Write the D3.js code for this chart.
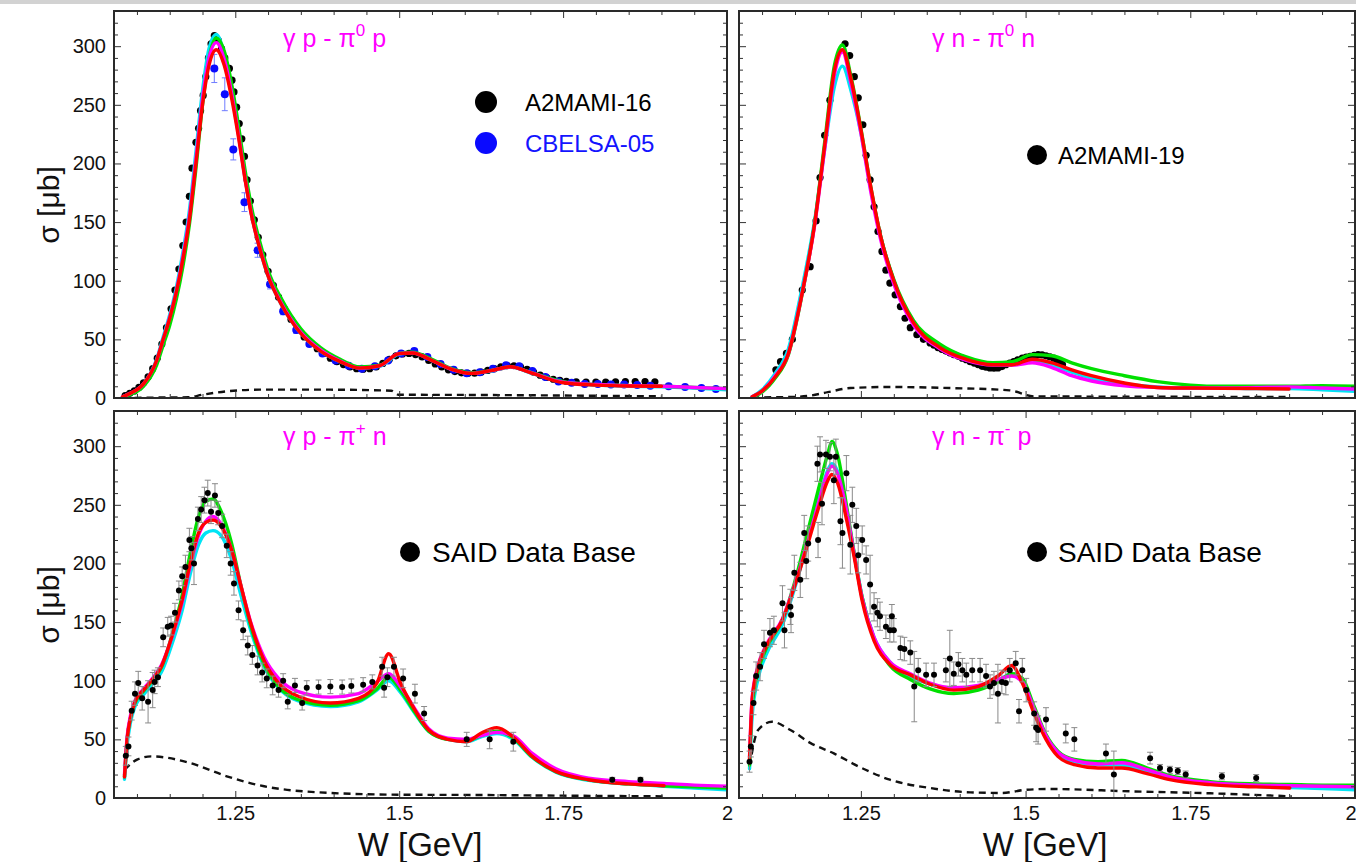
<!DOCTYPE html>
<html>
<head>
<meta charset="utf-8">
<script src="https://cdn.jsdelivr.net/npm/d3@7"></script>
<style>
  body { margin: 0; background: #fff; }
  text { font-family: "Liberation Sans", Arial, Helvetica, sans-serif; }
</style>
</head>
<body>
<svg id="chart" width="1356" height="862"></svg>
<script>
// ---------------- axes ----------------
const xDomain = [1.065, 2.0];
const yDomain = [0, 330];
const xMajorTicks = [1.25, 1.5, 1.75, 2.0];
const xTickLabels = ["1.25", "1.5", "1.75", "2"];
const yMajorTicks = [0, 50, 100, 150, 200, 250, 300];

// ---------------- γp → π0p ----------------
const tlW       = [1.078, 1.09, 1.11, 1.13, 1.14, 1.15, 1.16, 1.17, 1.18, 1.19, 1.20, 1.21, 1.221, 1.233, 1.245, 1.255, 1.265, 1.275, 1.29, 1.30, 1.32, 1.35, 1.38, 1.41, 1.44, 1.47, 1.50, 1.52, 1.55, 1.58, 1.61, 1.64, 1.67, 1.70, 1.75, 1.80, 1.85, 1.90, 1.95, 2.00];
const tlCyan    = [1, 4, 12, 33, 52, 71, 94, 124, 160, 210, 262, 298, 310, 294, 262, 226, 188, 156, 122, 104, 80, 55, 40, 31, 25.5, 27, 37.5, 38.5, 32, 24.5, 21, 23, 26.5, 21.5, 13.5, 11, 10, 9.5, 8.5, 7];
const tlGreen   = [0.5, 3, 10, 28, 45, 62, 84, 112, 148, 196, 250, 290, 307, 296, 266, 232, 194, 162, 128, 109, 85, 59, 43, 33, 26.5, 28, 38, 39, 33, 25, 21.5, 23.5, 26.5, 22, 14, 11.5, 10.5, 10, 9, 8];
const tlMagenta = [1, 4, 12, 32, 50, 69, 91, 120, 155, 204, 255, 290, 303, 289, 258, 224, 187, 156, 123, 105, 81, 56, 41, 31.5, 25.5, 27.5, 38, 38.5, 32, 24.5, 21, 23.3, 26.5, 21.8, 13.5, 11.5, 10.5, 10, 9, 8];
const tlRed     = [1, 4, 12, 32, 50, 68, 90, 118, 152, 200, 250, 284, 297, 284, 254, 222, 186, 155, 122, 104, 80, 55, 40, 31, 25.5, 27.5, 37.8, 38.4, 32, 24.5, 21, 23.3, 26.7, 21.6, 13, 11, 10.2, 10, null, null];
const tlBgW     = [1.078, 1.15, 1.178, 1.20, 1.237, 1.287, 1.395, 1.488, 1.499, 1.61, 1.90];
const tlBg      = [0, 0.5, 0.6, 2.8, 5.7, 7.1, 7.1, 6.2, 2.8, 2.6, 1.4];

// A2MAMI-16
const tlA2W = [1.082, 1.089, 1.096, 1.103, 1.110, 1.117, 1.124, 1.131, 1.138, 1.145, 1.152, 1.158, 1.164, 1.170, 1.175, 1.180, 1.184, 1.190, 1.194, 1.197, 1.201, 1.205, 1.209, 1.213, 1.218, 1.224, 1.229, 1.234, 1.241, 1.245, 1.248, 1.252, 1.256, 1.260, 1.264, 1.268, 1.273, 1.279, 1.285, 1.292, 1.300, 1.308, 1.316, 1.325, 1.335, 1.345, 1.355, 1.365, 1.375, 1.385, 1.395, 1.405, 1.415, 1.425, 1.435, 1.445, 1.455, 1.465, 1.475, 1.485, 1.495, 1.505, 1.515, 1.525, 1.535, 1.545, 1.555, 1.565, 1.575, 1.585, 1.595, 1.605, 1.615, 1.625, 1.635, 1.645, 1.655, 1.665, 1.675, 1.685, 1.695, 1.705, 1.715, 1.725, 1.735, 1.745, 1.755, 1.770, 1.785, 1.800, 1.815, 1.830, 1.845, 1.860, 1.875, 1.890];
const tlA2S = [2, 4, 6, 9, 13, 18, 25, 34, 46, 60, 76, 92, 110, 130, 150, 172, 196, 218, 230, 245, 258, 274, 290, 302, 309, 305, 298, 290, 281, 271, 261, 248, 234, 221, 206, 186, 168, 152, 137, 122, 108, 96, 86, 76, 67, 59, 52, 47, 42, 38, 34, 31, 28.5, 26.5, 25, 24.5, 25, 26.5, 29.5, 33, 36, 37.5, 38, 37, 35, 32, 29, 26.5, 24, 22.5, 21.5, 21, 21.2, 22, 23.5, 25, 26.5, 27.5, 27.5, 26.5, 24.5, 22, 19.5, 17.5, 16, 15, 14.3, 13.8, 13.5, 13.5, 13.5, 13.8, 14, 14, 14, 13.8];
// CBELSA-05
const tlCbW = [1.218, 1.234, 1.247, 1.264, 1.284, 1.303, 1.323, 1.343, 1.363, 1.383, 1.403, 1.423, 1.443, 1.463, 1.483, 1.503, 1.523, 1.543, 1.563, 1.583, 1.603, 1.623, 1.643, 1.663, 1.683, 1.703, 1.723, 1.743, 1.763, 1.783, 1.803, 1.823, 1.843, 1.863, 1.883, 1.911, 1.936, 1.961, 1.983];
const tlCbS = [281, 259, 212, 167, 126, 97, 74, 58, 46, 38, 32, 27.5, 25, 27, 32, 38, 40, 35, 29, 24, 21, 22, 25, 28, 27, 23, 18, 14, 13, 12, 12, 11.5, 11.5, 11, 10.5, 10, 9.4, 8.5, 7.7];
const tlCbE = [12, 14, 9, 8, 6, 4, 3, 3, 2, 2, 2, 2, 2, 2, 2, 2, 2, 2, 2, 2, 2, 2, 2, 2, 2, 2, 2, 1.5, 1.5, 1.5, 1.5, 1.5, 1.5, 1.5, 1.5, 1.5, 1.5, 1.5, 1.5];

// ---------------- γn → π0n ----------------
const trW       = [1.085, 1.10, 1.12, 1.14, 1.16, 1.18, 1.195, 1.21, 1.222, 1.235, 1.25, 1.265, 1.28, 1.30, 1.33, 1.37, 1.41, 1.45, 1.48, 1.51, 1.54, 1.57, 1.60, 1.65, 1.70, 1.75, 1.80, 1.85, 1.90, 1.95, 2.0];
const trCyan    = [1, 7, 21, 42, 92, 152, 212, 266, 283, 262, 226, 178, 138, 100, 64, 43, 33, 28.5, 28.5, 31, 28, 22, 17, 12, 9.5, 8.5, 8.5, 8, 8, 7, 5.7];
const trGreen   = [0.5, 5, 17, 37, 86, 150, 218, 284, 301, 274, 230, 180, 138, 101, 66, 46, 35, 30, 31, 37, 36, 30, 25, 19, 14, 11, 10, 10, 10, 10.5, 10];
const trMagenta = [1, 6, 19, 38, 87, 148, 212, 276, 295, 268, 226, 176, 135, 97, 62, 42, 32, 28, 28, 30, 26, 19, 14.5, 10.5, 9, 8.5, 8.5, 9, 9.5, 8.5, 7.7];
const trRed     = [1, 6, 18, 38, 87, 149, 215, 280, 297, 272, 229, 180, 138, 100, 64, 43, 33, 28.4, 28.4, 33, 30, 24, 19, 12.8, 9, 8.5, 8.2, 8, 7.7, null, null];
const trBgW     = [1.085, 1.15, 1.173, 1.20, 1.234, 1.294, 1.385, 1.476, 1.513, 1.60, 1.75, 1.90];
const trBg      = [0.5, 1, 2, 5, 8.5, 9.4, 8.5, 6.5, 1.4, 1.2, 1, 1];

// A2MAMI-19
const trA2W = [1.121, 1.128, 1.137, 1.146, 1.161, 1.173, 1.182, 1.188, 1.195, 1.203, 1.226, 1.233, 1.240, 1.246, 1.253, 1.258, 1.264, 1.270, 1.276, 1.282, 1.288, 1.294, 1.302, 1.310, 1.317, 1.325, 1.335, 1.345, 1.355, 1.361, 1.367, 1.373, 1.379, 1.385, 1.391, 1.398, 1.404, 1.410, 1.416, 1.422, 1.428, 1.434, 1.440, 1.446, 1.452, 1.458, 1.464, 1.470, 1.476, 1.482, 1.488, 1.495, 1.501, 1.507, 1.513, 1.519, 1.525, 1.531, 1.537, 1.543, 1.548, 1.552, 1.556];
const trA2S = [24, 31, 38, 50, 92, 112, 151, 188, 224, 254, 302, 292, 274, 256, 233, 207, 186, 163, 142, 125, 109, 98, 88, 78, 68, 60, 54, 50, 47, 45, 43, 41.5, 40, 38.5, 37, 35.5, 34, 32.7, 31, 29.8, 28.5, 27, 26.3, 25.6, 25.5, 25.6, 26.8, 28.4, 29.7, 31, 32.5, 34, 34.8, 35.5, 36.3, 37, 36.8, 36, 35, 34, 32, 31, 28.4];

// ---------------- γp → π+n ----------------
const blW       = [1.081, 1.085, 1.09, 1.097, 1.11, 1.125, 1.137, 1.155, 1.169, 1.18, 1.194, 1.205, 1.216, 1.228, 1.244, 1.259, 1.273, 1.294, 1.316, 1.345, 1.395, 1.438, 1.466, 1.484, 1.502, 1.524, 1.545, 1.574, 1.603, 1.624, 1.649, 1.674, 1.703, 1.739, 1.789, 1.85, 1.904, 1.95, 2.0];
const blCyan    = [16, 45, 64, 78, 88, 98, 107, 134, 160, 188, 216, 226, 228, 224, 204, 172, 144, 112, 94, 83, 78, 82, 92, 100, 90, 72, 57, 50, 48, 52, 55, 50, 34.5, 22, 15, 12, 10, 8.5, 7];
const blGreen   = [18, 50, 68, 81, 91, 101, 111, 142, 173, 205, 240, 253, 255, 245, 218, 180, 148, 114, 95, 84, 79, 83, 93, 103, 92, 73, 57, 50, 49, 53, 57, 51, 35, 22.5, 15.5, 12, 10.5, 9.5, 8.5];
const blMagenta = [20, 52, 70, 83, 93, 103, 113, 140, 167, 195, 224, 236, 240, 234, 212, 180, 151, 120, 102, 91, 86, 89, 99, 106, 95, 76, 59, 51, 50, 53, 56, 53, 38, 25, 17, 14, 12.5, 11, 10];
const blRed     = [18, 50, 68, 82, 92, 102, 112, 141, 169, 197, 226, 235, 237, 232, 212, 180, 150, 117, 98, 87, 81, 85, 98, 123, 98, 75, 58, 50, 48, 55, 60, 52, 35.5, 22.7, 15.6, 12, 10.5, null, null];
const blBgW     = [1.081, 1.101, 1.122, 1.18, 1.237, 1.294, 1.395, 1.50, 1.61, 1.75, 1.904];
const blBg      = [24, 33, 35.5, 30, 18.5, 10, 4.3, 2.8, 2.6, 2, 1.4];

// SAID data base, γp → π+n
const blSaW = [1.083, 1.087, 1.092, 1.097, 1.102, 1.108, 1.117, 1.124, 1.127, 1.132, 1.140, 1.147, 1.152, 1.158, 1.164, 1.169, 1.174, 1.180, 1.183, 1.187, 1.193, 1.198, 1.203, 1.208, 1.213, 1.219, 1.224, 1.230, 1.237, 1.243, 1.248, 1.255, 1.262, 1.269, 1.276, 1.284, 1.291, 1.298, 1.307, 1.316, 1.323, 1.330, 1.341, 1.352, 1.359, 1.377, 1.395, 1.413, 1.427, 1.445, 1.459, 1.474, 1.477, 1.482, 1.492, 1.506, 1.524, 1.538, 1.603, 1.638, 1.674, 1.825, 1.868];
const blSaS = [36, 44, 74.5, 89, 98, 85, 82, 92, 99, 103, 137, 146, 147, 158, 177, 189, 197, 220, 213, 200, 238, 246, 254, 260, 244, 258, 243, 232, 215, 200, 183, 160, 143, 130, 122, 113, 107, 102, 96, 92, 100, 82, 96, 81, 94, 94.6, 95, 94.6, 95.5, 96.6, 99, 112, 94, 103, 112, 102, 89, 72, 50, 50, 48, 15.6, 15.6];
const blSaE = [8, 8, 8, 10, 10, 10, 18, 15, 10, 8, 8, 8, 8, 8, 8, 8, 10, 10, 10, 18, 10, 11, 11, 11, 10, 10, 10, 10, 10, 10, 10, 8, 8, 8, 8, 8, 8, 8, 8, 6, 6, 6, 6, 6, 6, 6, 6, 6, 6, 6, 6, 8, 8, 8, 8, 8, 8, 6, 6, 8, 8, 2, 2];

// ---------------- γn → π−p ----------------
const brW       = [1.081, 1.085, 1.094, 1.106, 1.131, 1.149, 1.167, 1.185, 1.200, 1.206, 1.215, 1.228, 1.240, 1.252, 1.270, 1.294, 1.325, 1.355, 1.391, 1.428, 1.458, 1.479, 1.495, 1.513, 1.531, 1.549, 1.574, 1.610, 1.646, 1.683, 1.719, 1.780, 1.85, 1.901, 1.95, 2.0];
const brCyan    = [25, 70, 102, 122, 148, 178, 214, 252, 280, 285, 278, 246, 208, 171, 137, 116, 104, 97, 93, 94, 100, 106, 100, 76, 52, 38, 31, 28.5, 28, 23, 17.5, 12.5, 10, 9, 8, 7];
const brGreen   = [28, 78, 108, 127, 152, 183, 222, 262, 294, 304, 292, 250, 208, 171, 136, 113, 101, 93, 89, 92, 99, 106, 102, 78, 54, 40, 33, 31, 32, 26, 19, 14, 12, 11.5, 11, 11];
const brMagenta = [35, 86, 113, 130, 153, 181, 214, 250, 278, 283, 276, 246, 207, 170, 137, 116, 106, 98, 94, 96, 101, 104, 99, 76, 53, 39, 32, 29, 30, 24.5, 18, 13, 11, 10.5, 10, 9.5];
const brRed     = [33, 84, 112, 129, 152, 180, 212, 246, 271, 276, 268, 238, 205, 168, 134, 114, 105, 97, 92, 95, 104, 113, 98, 72, 50, 35.5, 28.4, 25.6, 25.6, 21, 15.6, 11.4, 9.5, 8.5, null, null];
const brBgW     = [1.081, 1.094, 1.115, 1.143, 1.173, 1.209, 1.246, 1.294, 1.355, 1.416, 1.464, 1.501, 1.537, 1.658, 1.78, 1.904];
const brBg      = [27, 58, 65, 58, 47, 38, 27, 15.6, 8.5, 4.8, 4.3, 7, 7.7, 5.7, 4, 1.4];

// SAID data base, γn → π−p
const brSaW = [1.081, 1.083, 1.087, 1.091, 1.097, 1.103, 1.112, 1.118, 1.131, 1.134, 1.143, 1.144, 1.149, 1.158, 1.164, 1.167, 1.170, 1.184, 1.185, 1.188, 1.191, 1.197, 1.203, 1.209, 1.212, 1.219, 1.222, 1.228, 1.234, 1.237, 1.243, 1.246, 1.252, 1.258, 1.264, 1.270, 1.275, 1.279, 1.288, 1.294, 1.297, 1.300, 1.310, 1.316, 1.325, 1.331, 1.337, 1.349, 1.361, 1.379, 1.385, 1.391, 1.398, 1.404, 1.410, 1.419, 1.431, 1.440, 1.446, 1.452, 1.458, 1.464, 1.470, 1.476, 1.485, 1.490, 1.495, 1.501, 1.513, 1.516, 1.519, 1.531, 1.561, 1.574, 1.622, 1.634, 1.689, 1.704, 1.719, 1.731, 1.743, 1.798, 1.850];
const brSaS = [31, 44, 81, 104, 112, 131, 141, 143, 166, 143, 163, 156, 192, 186, 226, 202, 217, 285, 220, 293, 251, 293, 291, 271, 291, 236, 226, 277, 216, 250, 232, 207, 220, 203, 182, 163, 158, 155, 146, 143, 155, 143, 128, 127, 124, 95, 109, 105, 105, 109, 119, 106, 114, 109, 105, 109, 109, 104, 95, 98, 89, 99, 98, 109, 115, 74, 109, 92, 72, 60, 58, 67, 55, 50, 38, 20, 34, 25.6, 24, 23, 20, 18.5, 17];
const brSaE = [9, 9, 10, 12, 12, 12, 12, 12, 15, 15, 15, 15, 15, 15, 15, 15, 15, 15, 15, 15, 18, 12, 12, 20, 15, 20, 30, 15, 25, 15, 15, 15, 12, 12, 25, 12, 12, 12, 10, 10, 10, 10, 10, 10, 10, 30, 10, 10, 10, 10, 24, 10, 10, 10, 10, 10, 10, 10, 10, 10, 25, 10, 10, 10, 10, 10, 10, 10, 10, 12, 12, 10, 8, 10, 8, 20, 5, 3, 3, 3, 3, 3, 3];

// ---------------- drawing ----------------
const modelColors = { cyan: "#00e4f4", green: "#00e000", magenta: "#ff00ff", red: "#ff0000" };
const modelOrder = ["cyan", "green", "magenta", "red"];

const panels = [
  { x: [114, 727], y: [398, 11], xLabels: false, yLabels: true,
    title: ["γ p - π", "0", " p"], titlePos: [283, 47],
    grid: tlW, models: { cyan: tlCyan, green: tlGreen, magenta: tlMagenta, red: tlRed }, bgW: tlBgW, bg: tlBg,
    sets: [ { w: tlA2W, s: tlA2S, color: "#000", r: 3.6 },
            { w: tlCbW, s: tlCbS, e: tlCbE, color: "#0a0aff", r: 4, errColor: "#6f7cff" } ],
    dataOnTop: false,
    legend: [ { cx: 486, cy: 102, r: 11, gap: 39, size: 24, label: "A2MAMI-16", color: "#000", text: "#000" },
              { cx: 486, cy: 143, r: 11, gap: 39, size: 24, label: "CBELSA-05", color: "#0a0aff", text: "#1414ff" } ] },
  { x: [739, 1355], y: [398, 11], xLabels: false, yLabels: false,
    title: ["γ n - π", "0", " n"], titlePos: [932, 47],
    grid: trW, models: { cyan: trCyan, green: trGreen, magenta: trMagenta, red: trRed }, bgW: trBgW, bg: trBg,
    sets: [ { w: trA2W, s: trA2S, color: "#000", r: 3.6 } ],
    dataOnTop: false,
    legend: [ { cx: 1037, cy: 155, r: 10, gap: 21, size: 24, label: "A2MAMI-19", color: "#000", text: "#000" } ] },
  { x: [114, 727], y: [798, 411], xLabels: true, yLabels: true,
    title: ["γ p - π", "+", " n"], titlePos: [283, 445],
    grid: blW, models: { cyan: blCyan, green: blGreen, magenta: blMagenta, red: blRed }, bgW: blBgW, bg: blBg,
    sets: [ { w: blSaW, s: blSaS, e: blSaE, color: "#000", r: 3, errColor: "#8a8a8a" } ],
    dataOnTop: true,
    legend: [ { cx: 410, cy: 552, r: 10, gap: 22, size: 28, label: "SAID Data Base", color: "#000", text: "#000" } ] },
  { x: [739, 1355], y: [798, 411], xLabels: true, yLabels: false,
    title: ["γ n - π", "-", " p"], titlePos: [932, 445],
    grid: brW, models: { cyan: brCyan, green: brGreen, magenta: brMagenta, red: brRed }, bgW: brBgW, bg: brBg,
    sets: [ { w: brSaW, s: brSaS, e: brSaE, color: "#000", r: 3, errColor: "#8a8a8a" } ],
    dataOnTop: true,
    legend: [ { cx: 1037, cy: 552, r: 10, gap: 21, size: 28, label: "SAID Data Base", color: "#000", text: "#000" } ] }
];

const svg = d3.select("#chart");
svg.append("rect").attr("width", 1356).attr("height", 862).attr("fill", "#fff");
svg.append("rect").attr("width", 1356).attr("height", 4).attr("fill", "#d2d2d2");

panels.forEach((p, i) => {
  const xs = d3.scaleLinear().domain(xDomain).range(p.x);
  const ys = d3.scaleLinear().domain(yDomain).range(p.y);
  const g = svg.append("g");
  const clipId = "clip" + i;
  svg.append("clipPath").attr("id", clipId).append("rect")
    .attr("x", p.x[0]).attr("y", p.y[1]).attr("width", p.x[1] - p.x[0]).attr("height", p.y[0] - p.y[1]);

  const plot = g.append("g").attr("clip-path", `url(#${clipId})`);
  const line = d3.line().defined(d => d[1] != null)
    .x(d => xs(d[0])).y(d => ys(d[1])).curve(d3.curveMonotoneX);

  function drawData() {
    p.sets.forEach(set => {
      const pts = set.w.map((w, k) => ({ w, s: set.s[k], e: set.e ? set.e[k] : 0 }));
      const gd = plot.append("g");
      if (set.e) {
        const eb = gd.selectAll(".eb").data(pts).join("g").attr("stroke", set.errColor).attr("stroke-width", 1);
        eb.append("line").attr("x1", d => xs(d.w)).attr("x2", d => xs(d.w))
          .attr("y1", d => ys(d.s - d.e)).attr("y2", d => ys(d.s + d.e));
        eb.append("line").attr("x1", d => xs(d.w) - 3).attr("x2", d => xs(d.w) + 3)
          .attr("y1", d => ys(d.s - d.e)).attr("y2", d => ys(d.s - d.e));
        eb.append("line").attr("x1", d => xs(d.w) - 3).attr("x2", d => xs(d.w) + 3)
          .attr("y1", d => ys(d.s + d.e)).attr("y2", d => ys(d.s + d.e));
      }
      gd.selectAll("circle").data(pts).join("circle")
        .attr("cx", d => xs(d.w)).attr("cy", d => ys(d.s)).attr("r", set.r).attr("fill", set.color);
    });
  }

  function drawModels() {
    plot.append("path").datum(p.bgW.map((w, k) => [w, p.bg[k]]))
      .attr("d", line).attr("fill", "none").attr("stroke", "#111")
      .attr("stroke-width", 2.4).attr("stroke-dasharray", "7,5");
    modelOrder.forEach(name => {
      plot.append("path").datum(p.grid.map((w, k) => [w, p.models[name][k]]))
        .attr("d", line).attr("fill", "none").attr("stroke", modelColors[name])
        .attr("stroke-width", 3.4).attr("stroke-linejoin", "round").attr("stroke-linecap", "round");
    });
  }

  if (p.dataOnTop) { drawModels(); drawData(); } else { drawData(); drawModels(); }

  // ticks on all four sides, pointing inwards
  const xMinor = d3.range(1.10, 2.0, 0.05).filter(v => !xMajorTicks.some(t => Math.abs(t - v) < 1e-6));
  const yMinor = d3.range(10, 330, 10).filter(v => v % 50 !== 0);
  const addAxis = (axis, tf) => {
    const a = g.append("g").attr("transform", tf).call(axis);
    a.select(".domain").remove();
    a.selectAll(".tick line").attr("stroke", "#333").attr("stroke-width", 1);
    return a;
  };
  addAxis(d3.axisBottom(xs).tickValues(xMajorTicks).tickSize(-7).tickFormat(""), `translate(0,${p.y[0]})`);
  addAxis(d3.axisBottom(xs).tickValues(xMinor).tickSize(-4).tickFormat(""), `translate(0,${p.y[0]})`);
  addAxis(d3.axisTop(xs).tickValues(xMajorTicks).tickSize(-7).tickFormat(""), `translate(0,${p.y[1]})`);
  addAxis(d3.axisTop(xs).tickValues(xMinor).tickSize(-4).tickFormat(""), `translate(0,${p.y[1]})`);
  addAxis(d3.axisLeft(ys).tickValues(yMajorTicks).tickSize(-7).tickFormat(""), `translate(${p.x[0]},0)`);
  addAxis(d3.axisLeft(ys).tickValues(yMinor).tickSize(-4).tickFormat(""), `translate(${p.x[0]},0)`);
  addAxis(d3.axisRight(ys).tickValues(yMajorTicks).tickSize(-7).tickFormat(""), `translate(${p.x[1]},0)`);
  addAxis(d3.axisRight(ys).tickValues(yMinor).tickSize(-4).tickFormat(""), `translate(${p.x[1]},0)`);

  if (p.xLabels) {
    const ax = g.append("g").attr("transform", `translate(0,${p.y[0]})`)
      .call(d3.axisBottom(xs).tickValues(xMajorTicks).tickSize(0).tickPadding(8)
        .tickFormat((d, k) => xTickLabels[k]));
    ax.select(".domain").remove();
    ax.selectAll("text").attr("font-size", 20).attr("fill", "#111")
      .attr("font-family", "Liberation Sans, Arial, sans-serif");
    // the last label sits on the page edge in the right-hand column
    if (p.x[1] > 1300) ax.selectAll("text").filter(d => d === 2.0).attr("text-anchor", "end").attr("dx", 1);
  }
  if (p.yLabels) {
    const ay = g.append("g").attr("transform", `translate(${p.x[0]},0)`)
      .call(d3.axisLeft(ys).tickValues(yMajorTicks).tickSize(0).tickPadding(8).tickFormat(d3.format("d")));
    ay.select(".domain").remove();
    ay.selectAll("text").attr("font-size", 20).attr("fill", "#111")
      .attr("font-family", "Liberation Sans, Arial, sans-serif");
  }

  // frame
  g.append("rect").attr("x", p.x[0]).attr("y", p.y[1])
    .attr("width", p.x[1] - p.x[0]).attr("height", p.y[0] - p.y[1])
    .attr("fill", "none").attr("stroke", "#2a2a2a").attr("stroke-width", 2);

  // reaction title
  const t = g.append("text").attr("x", p.titlePos[0]).attr("y", p.titlePos[1])
    .attr("font-size", 25).attr("fill", "#ff00ff");
  t.append("tspan").text(p.title[0]);
  t.append("tspan").attr("dy", -11).attr("font-size", 17).text(p.title[1]);
  t.append("tspan").attr("dy", 11).text(p.title[2]);

  // legend
  p.legend.forEach(l => {
    g.append("circle").attr("cx", l.cx).attr("cy", l.cy).attr("r", l.r).attr("fill", l.color);
    g.append("text").attr("x", l.cx + l.gap).attr("y", l.cy + 0.36 * l.size).attr("font-size", l.size)
      .attr("fill", l.text).text(l.label);
  });
});

// axis titles
[[48, 205], [48, 605]].forEach(([x, y]) => {
  svg.append("text").attr("transform", `translate(${x},${y}) rotate(-90)`)
    .attr("text-anchor", "middle").attr("dy", "0.35em").attr("font-size", 30).attr("fill", "#111")
    .text("σ [μb]");
});
[[420, 856], [1045, 856]].forEach(([x, y]) => {
  svg.append("text").attr("x", x).attr("y", y).attr("text-anchor", "middle")
    .attr("font-size", 33).attr("fill", "#111").text("W [GeV]");
});
</script>
</body>
</html>
